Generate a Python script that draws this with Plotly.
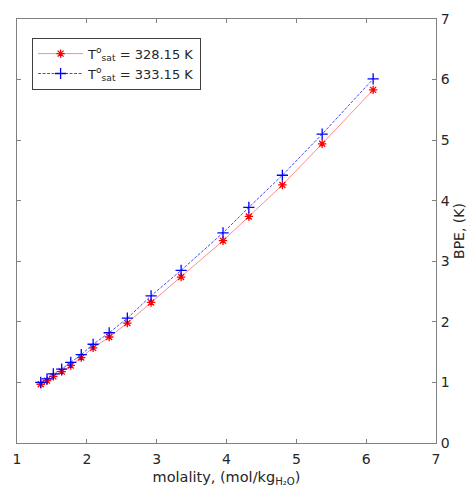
import plotly.graph_objects as go

molality = [1.34, 1.43, 1.52, 1.64, 1.77, 1.92, 2.09, 2.32, 2.58, 2.92, 3.35, 3.95, 4.32, 4.80, 5.37, 6.10]
bpe_328 = [0.97, 1.03, 1.10, 1.18, 1.28, 1.41, 1.57, 1.75, 1.98, 2.32, 2.74, 3.34, 3.74, 4.26, 4.94, 5.83]
bpe_333 = [1.00, 1.06, 1.14, 1.22, 1.33, 1.46, 1.63, 1.82, 2.06, 2.43, 2.85, 3.47, 3.89, 4.42, 5.10, 6.01]

x_ticks = [1, 2, 3, 4, 5, 6, 7]
y_ticks = [0, 1, 2, 3, 4, 5, 6, 7]

fig = go.Figure()
fig.add_trace(go.Scatter(
    x=molality, y=bpe_328, mode="lines+markers",
    name="T<sup>o</sup><sub>sat</sub> = 328.15 K",
    line=dict(color="rgba(255,90,90,0.7)", width=1),
    marker=dict(symbol="asterisk-open", size=7, color="red",
                line=dict(color="red", width=1.3)),
))
fig.add_trace(go.Scatter(
    x=molality, y=bpe_333, mode="lines+markers",
    name="T<sup>o</sup><sub>sat</sub> = 333.15 K",
    line=dict(color="rgba(40,40,255,0.85)", width=1, dash="3px,1.5px"),
    marker=dict(symbol="cross-thin-open", size=8, color="blue",
                line=dict(color="blue", width=1.3)),
))

axis_common = dict(
    showgrid=False, zeroline=False, showline=True, linecolor="#808080",
    linewidth=1, mirror="allticks", ticks="inside", ticklen=4,
    tickcolor="#808080", ticklabeloverflow="allow",
    tickfont=dict(family="DejaVu Sans", size=14, color="#262626"),
)

fig.update_layout(
    width=468, height=496,
    margin=dict(l=9, r=40, t=3, b=61),
    paper_bgcolor="white", plot_bgcolor="white",
    font=dict(family="DejaVu Sans", size=14, color="#262626"),
    xaxis=dict(range=[1, 7], tickvals=x_ticks, ticklabelstandoff=3, **axis_common,
               title=dict(text="molality, (mol/kg<sub>H₂O</sub>)", standoff=6,
                          font=dict(size=14.5))),
    yaxis=dict(range=[0, 7], tickvals=y_ticks, side="right", ticklabelstandoff=1,
               **axis_common,
               title=dict(text="BPE, (K)", standoff=5, font=dict(size=14))),
    legend=dict(x=0.036, y=0.956, xanchor="left", yanchor="top",
                bgcolor="white", bordercolor="#404040", borderwidth=1,
                font=dict(family="DejaVu Sans", size=13, color="#262626"),
                itemwidth=45),
    showlegend=True,
)

fig.write_html("out.html")
